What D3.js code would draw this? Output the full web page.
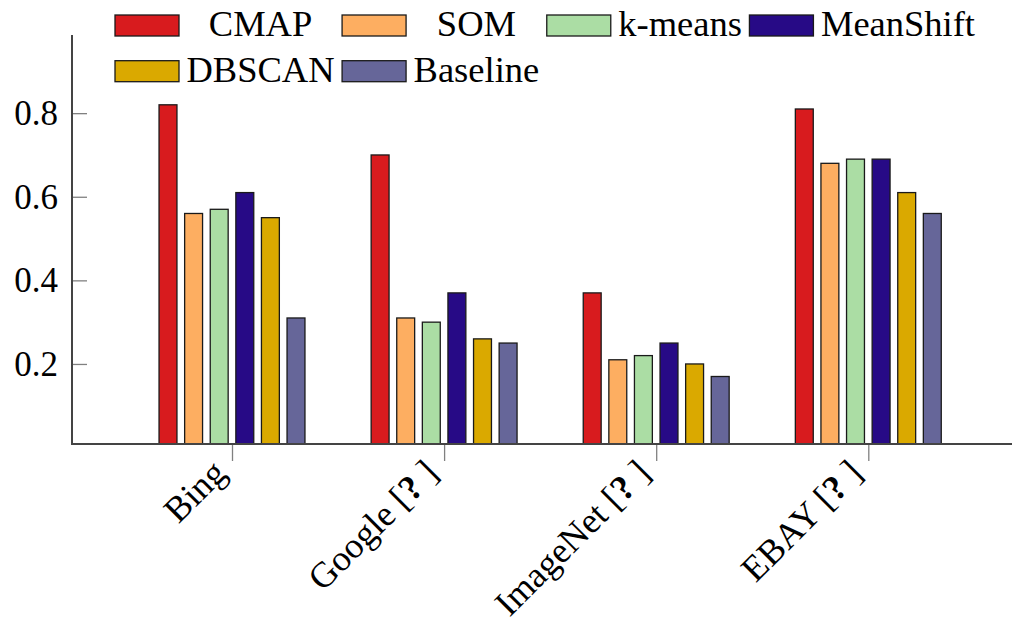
<!DOCTYPE html>
<html>
<head>
<meta charset="utf-8">
<script src="https://cdn.jsdelivr.net/npm/d3@7"></script>
<style>
  body { margin: 0; background: #fff; }
</style>
</head>
<body>
<svg id="chart" width="1012" height="624"></svg>
<script>
// data
let categories = ['Bing', 'Google', 'ImageNet', 'EBAY'];
let cite = [false, true, true, true];
let series = ['CMAP', 'SOM', 'k-means', 'MeanShift', 'DBSCAN', 'Baseline'];
let colors = ['#d81b1e', '#fdae61', '#abdda4', '#270a86', '#daa900', '#666699'];
let cmap = [0.82, 0.70, 0.37, 0.81];
let som = [0.56, 0.31, 0.21, 0.68];
let kmeans = [0.57, 0.30, 0.22, 0.69];
let meanshift = [0.61, 0.37, 0.25, 0.69];
let dbscan = [0.55, 0.26, 0.20, 0.61];
let baseline = [0.31, 0.25, 0.17, 0.56];
let yticks = [0.2, 0.4, 0.6, 0.8];

let values = [cmap, som, kmeans, meanshift, dbscan, baseline];

let svg = d3.select('#chart');
let font_size = 36.5;
let font = 'Liberation Serif, Times New Roman, Times, DejaVu Serif, serif';

let axis_left = 72, axis_right = 1012;
let y = d3.scaleLinear().domain([0.0085, 0.987]).range([444, 35]);
let x = d3.scalePoint().domain(categories).range([232, 868.3]);
let xs = d3.scaleBand().domain(series).range([-76.8, 76.8]).paddingInner(0.3).paddingOuter(0.15);

// bars
let rows = [];
categories.forEach((c, ci) => {
  series.forEach((s, si) => {
    rows.push({cat: c, ser: s, si: si, v: values[si][ci]});
  });
});
svg.append('g').attr('class', 'bars')
  .selectAll('rect').data(rows).enter().append('rect')
  .attr('x', d => x(d.cat) + xs(d.ser))
  .attr('width', xs.bandwidth())
  .attr('y', d => y(d.v))
  .attr('height', d => y.range()[0] - y(d.v))
  .attr('fill', d => colors[d.si])
  .attr('stroke', '#1a1a1a').attr('stroke-width', 1.3);

// y axis: ticks pointing inwards
let yaxis = svg.append('g').attr('transform', 'translate(' + axis_left + ',0)')
  .call(d3.axisRight(y).tickValues(yticks).tickSize(15).tickFormat(''));
yaxis.select('.domain').remove();
yaxis.selectAll('.tick line').attr('stroke', '#808080').attr('stroke-width', 1.3);
svg.append('g').selectAll('text').data(yticks).enter().append('text')
  .attr('x', 58).attr('y', d => y(d)).attr('dy', '0.34em')
  .attr('text-anchor', 'end').attr('font-family', font).attr('font-size', 35).attr('fill', '#000')
  .text(d => d.toFixed(1));

// x axis: ticks pointing outwards
let xaxis = svg.append('g').attr('transform', 'translate(0,' + y.range()[0] + ')')
  .call(d3.axisBottom(x).tickSize(17).tickFormat(''));
xaxis.select('.domain').remove();
xaxis.selectAll('.tick line').attr('stroke', '#808080').attr('stroke-width', 1.3);

let labels = svg.append('g').selectAll('text').data(categories).enter().append('text')
  .attr('transform', d => 'translate(' + (x(d) - 4) + ',' + (y.range()[0] + 31) + ') rotate(-45)')
  .attr('text-anchor', 'end').attr('font-family', font).attr('font-size', 36).attr('fill', '#000');
labels.each(function(d, i){
  let t = d3.select(this);
  if(cite[i]){
    t.append('tspan').text(d + ' [');
    t.append('tspan').attr('font-weight', 'bold').text('?');
    t.append('tspan').text('\u00a0]');
  }else{
    t.text(d);
  }
});

// axis lines
svg.append('line').attr('x1', axis_left).attr('x2', axis_left)
  .attr('y1', y.range()[1]).attr('y2', y.range()[0] + 1)
  .attr('stroke', '#444').attr('stroke-width', 2);
svg.append('line').attr('x1', axis_left - 1).attr('x2', axis_right)
  .attr('y1', y.range()[0]).attr('y2', y.range()[0])
  .attr('stroke', '#444').attr('stroke-width', 2);

// legend, 4 columns, text centred in each column cell
let n_col = 4, sw_w = 64, sw_h = 21, gap = 7.5;
let leg_x = 115, row_base = [36, 81.7];
let legend = svg.append('g').attr('class', 'legend');
let tmp = legend.append('text').attr('font-family', font).attr('font-size', font_size);
let col_w = d3.range(n_col).map(c => {
  let w = 0;
  series.forEach((s, i) => {
    if(i % n_col == c){
      tmp.text(s);
      w = Math.max(w, tmp.node().getComputedTextLength());
    }
  });
  return w;
});
tmp.remove();
let col_x = [];
let cx = leg_x;
for(let c = 0; c < n_col; c++){
  col_x.push(cx);
  cx += sw_w + gap + col_w[c] + gap;
}
series.forEach((s, i) => {
  let c = i % n_col, r = Math.floor(i / n_col);
  let x0 = col_x[c];
  legend.append('rect')
    .attr('x', x0).attr('y', row_base[r] - sw_h)
    .attr('width', sw_w).attr('height', sw_h)
    .attr('fill', colors[i]).attr('stroke', '#1a1a1a').attr('stroke-width', 1.3);
  legend.append('text')
    .attr('x', x0 + sw_w + gap + col_w[c] / 2).attr('y', row_base[r])
    .attr('text-anchor', 'middle').attr('font-family', font).attr('font-size', font_size).attr('fill', '#000')
    .text(s);
});
</script>
</body>
</html>
